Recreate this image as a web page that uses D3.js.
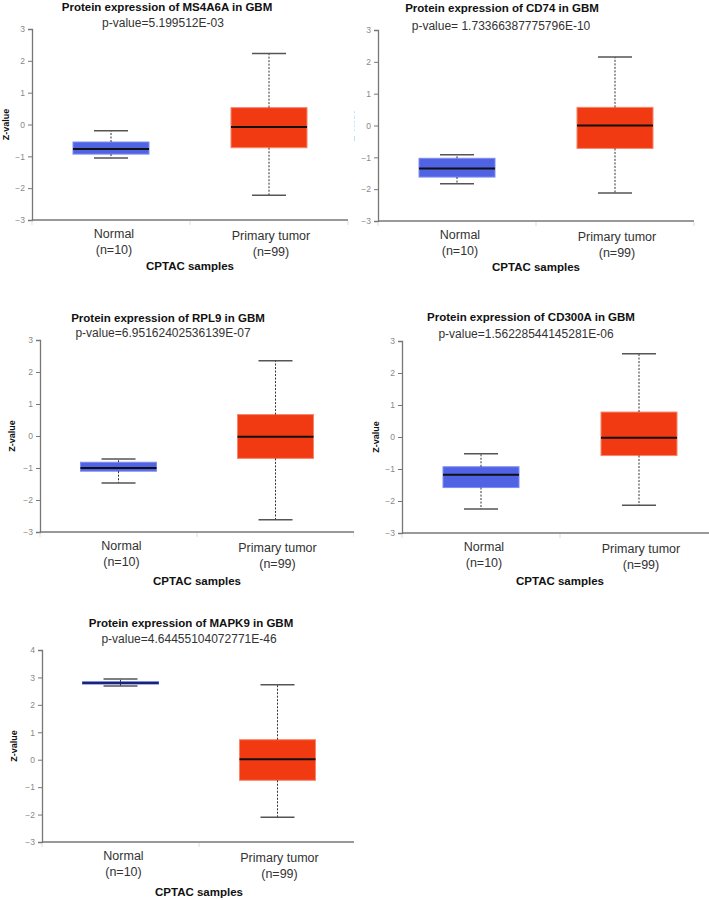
<!DOCTYPE html>
<html>
<head>
<meta charset="utf-8">
<script src="https://cdn.jsdelivr.net/npm/d3@7"></script>
<style>
body { margin: 0; background: #fff; }
svg { display: block; }
text { font-family: "Liberation Sans", Arial, sans-serif; }
</style>
</head>
<body>
<svg id="svg" width="709" height="900"></svg>
<script>
var genes = ["MS4A6A", "CD74", "RPL9", "CD300A", "MAPK9"];
var pValues = ["5.199512E-03", " 1.73366387775796E-10", "6.95162402536139E-07", "1.56228544145281E-06", "4.64455104072771E-46"];
var categories = ["Normal", "Primary tumor"];
var sampleCounts = [10, 99];
// [lower whisker, Q1, median, Q3, upper whisker]
var normalStats = [
	[-1.05, -0.93, -0.77, -0.55, -0.2],
	[-1.83, -1.62, -1.35, -1.03, -0.92],
	[-1.47, -1.1, -1.0, -0.82, -0.72],
	[-2.25, -1.58, -1.18, -0.93, -0.52],
	[2.69, 2.76, 2.8, 2.84, 2.94]
];
var tumorStats = [
	[-2.22, -0.73, -0.08, 0.53, 2.23],
	[-2.12, -0.72, 0.0, 0.57, 2.15],
	[-2.62, -0.7, -0.02, 0.67, 2.35],
	[-2.13, -0.58, -0.02, 0.78, 2.6],
	[-2.1, -0.75, 0.02, 0.73, 2.73]
];
var yMaxes = [3, 3, 3, 3, 4];
var yMin = -3;

// where each panel sits on the page
var layout = [
	{clip: [0, 0, 354, 290], ax: 32, right: 348, top: 29, bot: 220, tx: 167, ty: 8, px: 163, py: 24, zx: 7, cy: 267},
	{clip: [354, 0, 355, 290], ax: 378, right: 694, top: 30, bot: 221, tx: 502, ty: 9, px: 501, py: 27, zx: 352, cy: 268},
	{clip: [0, 290, 354, 300], ax: 40, right: 354, top: 340, bot: 532, tx: 168, ty: 319, px: 163, py: 334, zx: 13, cy: 582},
	{clip: [354, 290, 355, 300], ax: 402, right: 718, top: 341, bot: 533, tx: 531, ty: 318, px: 526, py: 335, zx: 377, cy: 582},
	{clip: [0, 590, 354, 310], ax: 42, right: 356, top: 650, bot: 842, tx: 191, ty: 624, px: 189, py: 640, zx: 15, cy: 893}
];

var colors = {Normal: "#5063e4", "Primary tumor": "#f23a12"};
var strokes = {Normal: "#7f8df0", "Primary tumor": "#f7866a"};

var svg = d3.select("#svg");
var defs = svg.append("defs");

for (var i = 0; i < genes.length; i++) {
	drawPanel(i);
}

function drawPanel(i) {
	var L = layout[i];
	defs.append("clipPath").attr("id", "clip" + i)
		.append("rect").attr("x", L.clip[0]).attr("y", L.clip[1]).attr("width", L.clip[2]).attr("height", L.clip[3]);
	var g = svg.append("g").attr("clip-path", "url(#clip" + i + ")");

	var y = d3.scaleLinear().domain([yMin, yMaxes[i]]).range([L.bot, L.top]);
	var x = d3.scaleBand().domain(categories).range([L.ax, L.right]);
	var bw = 76, cw = 34;

	// y axis
	var yAxis = d3.axisLeft(y).ticks(yMaxes[i] - yMin).tickSize(4).tickPadding(3).tickFormat(d3.format("d"));
	var ya = g.append("g").attr("transform", "translate(" + L.ax + ",0)").call(yAxis);
	ya.select(".domain").attr("stroke", "#777").attr("stroke-width", 1.3);
	ya.selectAll(".tick line").attr("stroke", "#777");
	ya.selectAll(".tick text").attr("fill", "#888").style("font-size", "8.5px");

	// x axis
	g.append("line").attr("x1", L.ax).attr("x2", L.right).attr("y1", L.bot).attr("y2", L.bot)
		.attr("stroke", "#777").attr("stroke-width", 1.3);
	var seps = [L.ax, (L.ax + L.right) / 2, L.right];
	g.selectAll(".sep").data(seps).enter().append("line")
		.attr("x1", function(d){ return d; }).attr("x2", function(d){ return d; })
		.attr("y1", L.bot + 1).attr("y2", L.bot + 5).attr("stroke", "#ddd");

	var stats = [normalStats[i], tumorStats[i]];
	categories.forEach(function(cat, j){
		var s = stats[j];
		var cx = x(cat) + x.bandwidth() / 2;
		g.append("rect").attr("x", cx - bw / 2).attr("width", bw)
			.attr("y", y(s[3])).attr("height", Math.max(1, y(s[1]) - y(s[3])))
			.attr("fill", colors[cat]).attr("stroke", i === 4 && j === 0 ? "#5063e4" : strokes[cat]).attr("stroke-width", 1);
		// whiskers
		[[s[3], s[4]], [s[1], s[0]]].forEach(function(w){
			g.append("line").attr("x1", cx).attr("x2", cx).attr("y1", y(w[0])).attr("y2", y(w[1]))
				.attr("stroke", "#333").attr("stroke-width", 1).attr("stroke-dasharray", "2,1.5");
			g.append("line").attr("x1", cx - cw / 2).attr("x2", cx + cw / 2).attr("y1", y(w[1])).attr("y2", y(w[1]))
				.attr("stroke", "#555").attr("stroke-width", 1.5);
		});
		g.append("line").attr("x1", cx - bw / 2).attr("x2", cx + bw / 2).attr("y1", y(s[2])).attr("y2", y(s[2]))
			.attr("stroke", i === 4 && j === 0 ? "#1a2470" : "#111").attr("stroke-width", 2);

		g.append("text").attr("x", cx + (j === 0 ? 3 : 2)).attr("y", L.bot + 15 + j * 1.5).attr("text-anchor", "middle")
			.attr("dominant-baseline", "middle").attr("fill", "#333").style("font-size", "12.5px").text(cat);
		g.append("text").attr("x", cx + (j === 0 ? 3 : 2)).attr("y", L.bot + 31 + j * 1.5).attr("text-anchor", "middle")
			.attr("dominant-baseline", "middle").attr("fill", "#333").style("font-size", "12.5px").text("(n=" + sampleCounts[j] + ")");
	});

	g.append("text").attr("x", L.tx).attr("y", L.ty).attr("text-anchor", "middle").attr("dominant-baseline", "middle")
		.attr("fill", "#111").style("font-size", "11.5px").style("font-weight", "bold")
		.text("Protein expression of " + genes[i] + " in GBM");
	g.append("text").attr("x", L.px).attr("y", L.py).attr("text-anchor", "middle").attr("dominant-baseline", "middle")
		.attr("fill", "#333").style("font-size", "12px").style("white-space", "pre")
		.text("p-value=" + pValues[i]);
	g.append("text").attr("x", (L.ax + L.right) / 2).attr("y", L.cy).attr("text-anchor", "middle").attr("dominant-baseline", "middle")
		.attr("fill", "#111").style("font-size", "11.5px").style("font-weight", "bold").text("CPTAC samples");
	g.append("text").attr("transform", "translate(" + L.zx + "," + (L.top + L.bot) / 2 + ") rotate(-90)")
		.attr("text-anchor", "middle").attr("dominant-baseline", "middle")
		.attr("fill", "#111").style("font-size", "9px").style("font-weight", "bold").text("Z-value");
}
</script>
</body>
</html>
